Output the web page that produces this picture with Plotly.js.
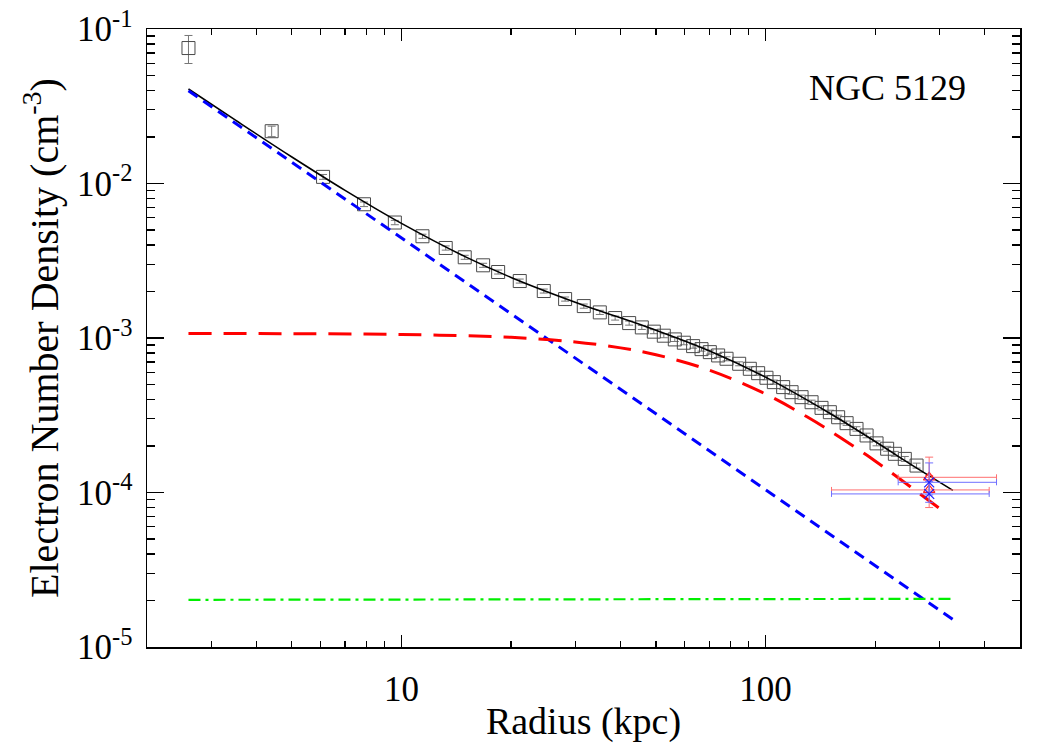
<!DOCTYPE html>
<html>
<head>
<meta charset="utf-8">
<script src="https://cdn.plot.ly/plotly-3.0.1.min.js"></script>
<style>html,body{margin:0;padding:0;background:#fff;}#chart{width:1050px;height:750px;}</style>
</head>
<body>
<div id="chart"></div>
<script>
// Observed density profile (kpc, cm^-3)
const radius = [2.60, 4.40, 6.09, 7.89, 9.59, 11.42, 13.23, 14.92, 16.76, 18.43, 21.13, 24.60, 28.15, 31.68, 35.06, 38.63, 42.21, 45.73, 49.33, 52.55, 56.34, 59.65, 63.25, 66.71, 70.31, 74.10, 78.15, 84.65, 90.54, 95.44, 100.6, 105.4, 111.8, 117.9, 125.6, 133.8, 142.5, 150.2, 158.3, 167.0, 177.8, 189.5, 201.8, 215.8, 226.6, 241.3, 259.9];
const density = [0.0753, 0.0218, 0.01104, 7.34e-3, 5.59e-3, 4.555e-3, 3.825e-3, 3.33e-3, 2.955e-3, 2.674e-3, 2.337e-3, 2.014e-3, 1.787e-3, 1.609e-3, 1.465e-3, 1.346e-3, 1.249e-3, 1.171e-3, 1.099e-3, 1.035e-3, 9.79e-4, 9.32e-4, 8.86e-4, 8.47e-4, 8.10e-4, 7.71e-4, 7.34e-4, 6.81e-4, 6.32e-4, 5.92e-4, 5.53e-4, 5.18e-4, 4.81e-4, 4.46e-4, 4.14e-4, 3.84e-4, 3.53e-4, 3.31e-4, 3.07e-4, 2.81e-4, 2.58e-4, 2.34e-4, 2.08e-4, 1.92e-4, 1.78e-4, 1.65e-4, 1.494e-4];
const densityErr = [0.0155, 0.0017, 4.0e-4, 2.5e-4, 1.8e-4, 1.4e-4, 1.2e-4, 1.0e-4, 9e-5, 8e-5, 7e-5, 6e-5, 5.5e-5, 5e-5, 4.5e-5, 4e-5, 3.8e-5, 3.5e-5, 3.3e-5, 3.1e-5, 3e-5, 2.8e-5, 2.7e-5, 2.5e-5, 2.4e-5, 2.3e-5, 2.2e-5, 2e-5, 1.9e-5, 1.8e-5, 1.7e-5, 1.6e-5, 1.5e-5, 1.4e-5, 1.3e-5, 1.2e-5, 1.1e-5, 1.0e-5, 9.5e-6, 9e-6, 8.5e-6, 8e-6, 7.5e-6, 7e-6, 6.5e-6, 6e-6, 5.5e-6];

// Model curves
const totalRadius = [2.6, 3.5, 5, 7, 10, 15, 20, 30, 50, 70, 100, 150, 200, 250, 327];
const totalModel = [0.04089, 0.02570, 0.014846, 9.03e-3, 5.52e-3, 3.35e-3, 2.466e-3, 1.705e-3, 1.123e-3, 8.27e-4, 5.58e-4, 3.26e-4, 2.14e-4, 1.527e-4, 1.033e-4];
const powerRadius = [2.6, 5, 10, 20, 50, 100, 200, 331];
const powerModel = [0.0398, 0.01376, 4.45e-3, 1.436e-3, 3.23e-4, 1.042e-4, 3.37e-5, 1.48e-5];
const betaRadius = [2.6, 5, 10, 20, 30, 40, 50, 70, 100, 130, 160, 200, 250, 314];
const betaModel = [1.07e-3, 1.066e-3, 1.054e-3, 1.0095e-3, 9.43e-4, 8.63e-4, 7.80e-4, 6.20e-4, 4.34e-4, 3.09e-4, 2.28e-4, 1.60e-4, 1.09e-4, 7.30e-5];
const bkgRadius = [2.6, 331];
const bkgModel = [2.02e-5, 2.05e-5];

// Outer measurements
const redR = [281.5, 281.5];
const redN = [1.254e-4, 1.039e-4];
const redXminus = [50.1, 129.7];
const redXplus = [149.5, 130.0];
const redYplus = [4.4e-5, 2.5e-5];
const redYminus = [2.5e-5, 2.4e-5];
const blueR = [281.5, 281.5];
const blueN = [1.164e-4, 9.79e-5];
const blueXminus = [50.1, 129.7];
const blueXplus = [149.5, 130.0];
const blueYplus = [3.9e-5, 2.0e-5];
const blueYminus = [2.0e-5, 1.15e-5];

const xMajor = [10, 100];
const xMajorText = ['10', '100'];
const xMinor = [2,3,4,5,6,7,8,9,20,30,40,50,60,70,80,90,200,300,400,500];
const yMajor = [1e-5, 1e-4, 1e-3, 1e-2, 1e-1];
const yMajorText = ['10<sup>-5</sup>', '10<sup>-4</sup>', '10<sup>-3</sup>', '10<sup>-2</sup>', '10<sup>-1</sup>'];
const yMinor = [];
[1e-5, 1e-4, 1e-3, 1e-2].forEach(d => { for (let k = 2; k <= 9; k++) yMinor.push(+(k * d).toPrecision(3)); });

const FONT = 'Liberation Serif, Times New Roman, serif';

const traces = [
  {
    x: radius, y: density, type: 'scatter', mode: 'markers',
    marker: {symbol: 'square-open', size: 13, color: '#4a4a4a', line: {width: 1, color: '#4a4a4a'}},
    error_y: {type: 'data', array: densityErr, visible: true, color: '#777', thickness: 1, width: 4},
    showlegend: false
  },
  {
    x: totalRadius, y: totalModel, type: 'scatter', mode: 'lines', line: {color: '#000', width: 1.6, shape: 'spline'}, showlegend: false
  },
  {
    x: powerRadius, y: powerModel, type: 'scatter', mode: 'lines', line: {color: '#0000ff', width: 3, dash: '11px,7px'}, showlegend: false
  },
  {
    x: betaRadius, y: betaModel, type: 'scatter', mode: 'lines', line: {color: '#ff0000', width: 3, dash: '23px,12px', shape: 'spline'}, showlegend: false
  },
  {
    x: bkgRadius, y: bkgModel, type: 'scatter', mode: 'lines', line: {color: '#00ee00', width: 2.2, dash: '12px,5px,3px,5px'}, showlegend: false
  },
  {
    x: redR, y: redN, type: 'scatter', mode: 'markers',
    marker: {symbol: 'triangle-up-open', size: 10, color: '#ff2020', line: {width: 1.2}},
    error_x: {type: 'data', symmetric: false, array: redXplus, arrayminus: redXminus, color: '#ff7070', thickness: 1, width: 3},
    error_y: {type: 'data', symmetric: false, array: redYplus, arrayminus: redYminus, color: '#ff7070', thickness: 1, width: 4},
    showlegend: false
  },
  {
    x: blueR, y: blueN, type: 'scatter', mode: 'markers',
    marker: {symbol: 'x-thin-open', size: 10, color: '#2020ff', line: {width: 1.2, color: '#2020ff'}},
    error_x: {type: 'data', symmetric: false, array: blueXplus, arrayminus: blueXminus, color: '#7070ff', thickness: 1, width: 3},
    error_y: {type: 'data', symmetric: false, array: blueYplus, arrayminus: blueYminus, color: '#7070ff', thickness: 1, width: 4},
    showlegend: false
  }
];

const layout = {
  width: 1050, height: 750,
  margin: {l: 147, r: 30, t: 29, b: 103, pad: 0},
  paper_bgcolor: '#fff', plot_bgcolor: '#fff',
  font: {family: FONT, size: 35, color: '#000'},
  xaxis: {
    type: 'log', range: [Math.log10(2), Math.log10(500)],
    tickmode: 'array', tickvals: xMajor, ticktext: xMajorText,
    ticks: 'inside', ticklen: 12, tickwidth: 1.5, tickcolor: '#000',
    showline: true, linewidth: 1.5, linecolor: '#000', mirror: 'allticks',
    showgrid: false, zeroline: false,
    ticklabelstandoff: 10,
    tickfont: {family: FONT, size: 35},
    minor: {tickmode: 'array', tickvals: xMinor, ticks: 'inside', ticklen: 6, tickwidth: 1.2, tickcolor: '#000', showgrid: false},
    title: {text: 'Radius (kpc)', font: {family: FONT, size: 38}, standoff: 0}
  },
  yaxis: {
    type: 'log', range: [-5, -1],
    tickmode: 'array', tickvals: yMajor, ticktext: yMajorText,
    ticks: 'inside', ticklen: 17, tickwidth: 1.5, tickcolor: '#000',
    showline: true, linewidth: 1.5, linecolor: '#000', mirror: 'allticks',
    showgrid: false, zeroline: false,
    ticklabelstandoff: 6,
    tickfont: {family: FONT, size: 35},
    minor: {tickmode: 'array', tickvals: yMinor, ticks: 'inside', ticklen: 8, tickwidth: 1.2, tickcolor: '#000', showgrid: false},
    title: {text: 'Electron Number Density (cm<sup>-3</sup>)', font: {family: FONT, size: 40}, standoff: 6}
  },
  annotations: [{
    text: 'NGC 5129', xref: 'paper', yref: 'paper', x: 0.848, y: 0.905, xanchor: 'center', yanchor: 'middle',
    showarrow: false, font: {family: FONT, size: 36, color: '#000'}
  }]
};

Plotly.newPlot('chart', traces, layout, {displayModeBar: false, staticPlot: true});
</script>
</body>
</html>
